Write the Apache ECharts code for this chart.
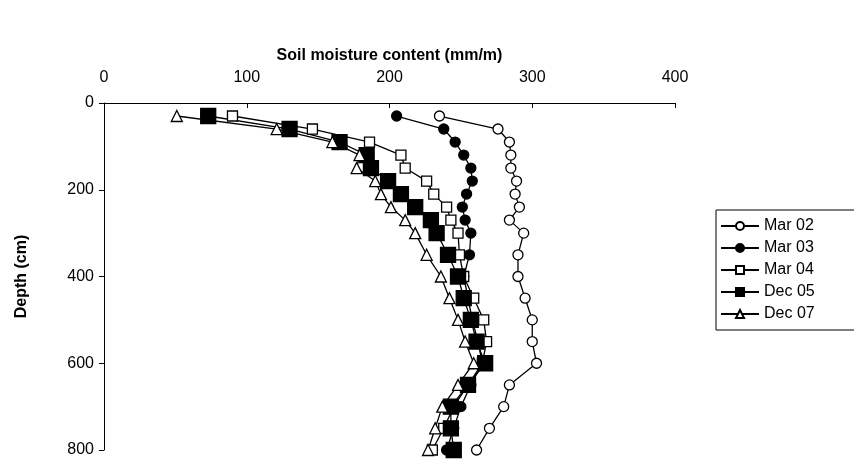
<!DOCTYPE html>
<html><head><meta charset="utf-8">
<script src="https://cdn.jsdelivr.net/npm/echarts@6/dist/echarts.min.js"></script>
<style>html,body{margin:0;padding:0;background:#fff}#c{width:854px;height:461px}</style>
</head><body><div id="c"></div>
<script>
const depths = [30,60,90,120,150,180,210,240,270,300,350,400,450,500,550,600,650,700,750,800];
const mar02 = [235,276,284,285,285,289,288,291,284,294,290,290,295,300,300,303,284,280,270,261];
const mar03 = [205,238,246,252,257,258,254,251,253,257,256,252,255,258,262,265,257,250,245,240];
const mar04 = [90,146,186,208,211,226,231,240,243,248,249,252,259,266,268,265,255,245,238,230];
const dec05 = [73,130,165,184,187,199,208,218,229,233,241,248,252,257,261,267,255,243,243,245];
const dec07 = [51,121,160,179,177,190,194,201,211,218,226,236,242,248,253,259,248,237,232,227];
const xTicks = [0,100,200,300,400];

const defs = [
  ['Mar 02', mar02, 'circle', '#fff', 10],
  ['Mar 03', mar03, 'circle', '#000', 10],
  ['Mar 04', mar04, 'rect', '#fff', 10],
  ['Dec 05', dec05, 'rect', '#000', 15],
  ['Dec 07', dec07, 'triangle', '#fff', 11]
];
const series = defs.map(([name, vals, sym, fill, size]) => ({
  name, type: 'line', symbol: sym, symbolSize: size,
  data: vals.map((v, i) => [v, depths[i]]),
  lineStyle: {color: '#000', width: 1.3},
  itemStyle: {color: fill, borderColor: '#000', borderWidth: 1.3},
  emphasis: {disabled: true}, animation: false
}));
const chart = echarts.init(document.getElementById('c'));
chart.setOption({
  animation: false,
  textStyle: {fontFamily: 'Liberation Sans, Arial, sans-serif'},
  grid: {left: 104, top: 103, width: 571, height: 347},
  xAxis: {type: 'value', position: 'top', min: 0, max: 400, interval: 100,
    name: 'Soil moisture content (mm/m)', nameLocation: 'middle', nameGap: 39,
    nameTextStyle: {fontWeight: 'bold', fontSize: 16, color: '#000'},
    axisLine: {lineStyle: {color: '#000'}}, axisTick: {show: true, inside: true, length: 5, lineStyle: {color: '#000'}},
    axisLabel: {fontSize: 16, color: '#000', margin: 17}, splitLine: {show: false}},
  yAxis: {type: 'value', inverse: true, min: 0, max: 800, interval: 200,
    name: 'Depth (cm)', nameLocation: 'middle', nameGap: 74, nameRotate: 90,
    nameTextStyle: {fontWeight: 'bold', fontSize: 16, color: '#000'},
    axisLine: {show: true, lineStyle: {color: '#000'}}, axisTick: {show: true, length: 5, lineStyle: {color: '#000'}},
    axisLabel: {fontSize: 16, color: '#000', margin: 10}, splitLine: {show: false}},
  legend: {orient: 'vertical', left: 716, top: 210, itemGap: 6, itemWidth: 38, itemHeight: 10,
    padding: [8, 40, 8, 4], borderColor: '#000', borderWidth: 1,
    textStyle: {fontSize: 16, color: '#000'},
    data: defs.map(d => d[0])},
  series
});
</script></body></html>
